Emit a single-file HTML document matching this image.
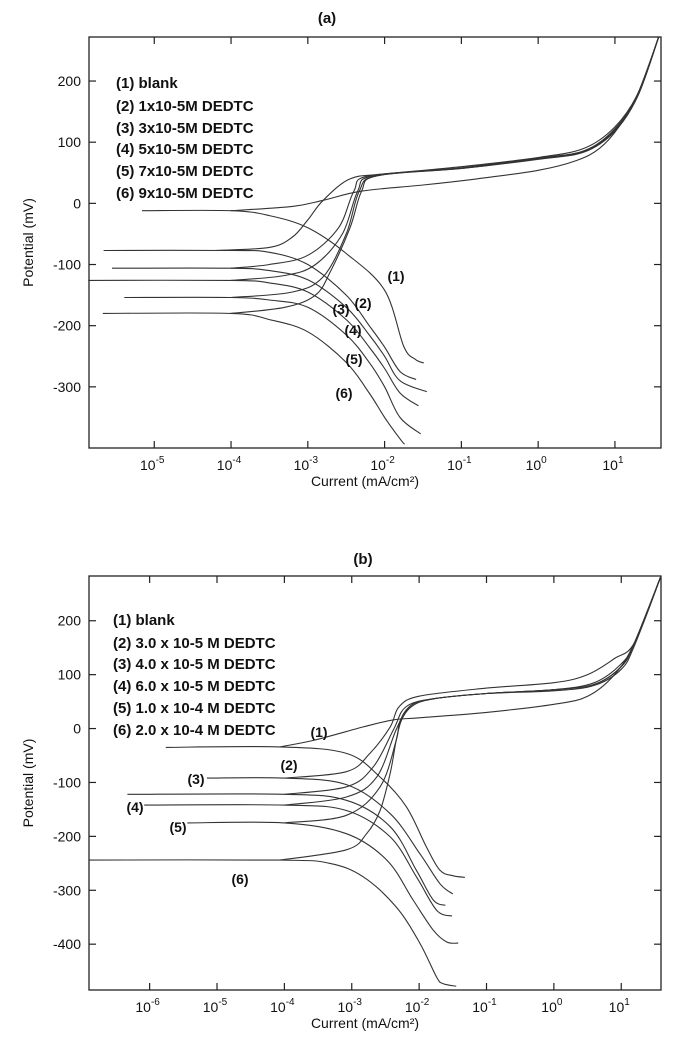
<!DOCTYPE html>
<html><head><meta charset="utf-8"><style>
html,body{margin:0;padding:0;background:#fff;}
svg{display:block;}
text{font-family:"Liberation Sans Narrow","Liberation Sans",sans-serif;fill:#111;}
</style></head><body>
<svg id="fig" width="673" height="1042" viewBox="0 0 673 1042"></svg>
<script>
// ---------- Panel (a) data: [log10(current), potential mV] ----------
const aTicksX = [-5,-4,-3,-2,-1,0,1];
const aTicksY = [200,100,0,-100,-200,-300];
const aLegend = ["(1) blank","(2) 1x10-5M DEDTC","(3) 3x10-5M DEDTC","(4) 5x10-5M DEDTC","(5) 7x10-5M DEDTC","(6) 9x10-5M DEDTC"];
const aCurveLabels = ["(1)","(2)","(3)","(4)","(5)","(6)"];
const aCath1 = [[-5.16,-12],[-4,-12],[-3.5,-20],[-3,-40],[-2.5,-82],[-2,-142],[-1.75,-234],[-1.6,-255],[-1.49,-261]];
const aAnod1 = [[-4,-12],[-3.2,-5],[-2.8,5],[-2.3,20],[-1.5,30],[-0.8,40],[0,54],[0.5,70],[0.8,90],[1.05,125],[1.3,180],[1.57,272]];
const aCath2 = [[-5.66,-77],[-4,-77],[-3.5,-80],[-3,-100],[-2.5,-150],[-2.2,-200],[-2,-235],[-1.8,-275],[-1.59,-288]];
const aAnod2 = [[-4.2,-77],[-3.5,-72],[-3.2,-55],[-3,-27],[-2.8,5],[-2.45,40],[-2,48],[-1,60],[0,75],[0.6,90],[1,125],[1.3,180],[1.57,272]];
const aCath3 = [[-5.55,-106],[-4,-106],[-3.5,-110],[-3,-125],[-2.5,-170],[-2.2,-215],[-2,-250],[-1.8,-290],[-1.45,-308]];
const aAnod3 = [[-4,-106],[-3.5,-100],[-3,-85],[-2.6,-40],[-2.4,20],[-2.2,45],[-1,57],[0,73],[0.6,85],[1,120],[1.3,178],[1.57,272]];
const aCath4 = [[-5.86,-126],[-4,-126],[-3.5,-130],[-3,-145],[-2.5,-190],[-2.2,-235],[-2,-270],[-1.8,-310],[-1.56,-331]];
const aAnod4 = [[-4,-126],[-3.3,-118],[-2.9,-100],[-2.55,-50],[-2.35,20],[-2.15,45],[-1,58],[0,74],[0.6,86],[1,122],[1.3,178],[1.57,272]];
const aCath5 = [[-5.39,-154],[-4,-154],[-3.5,-158],[-3,-170],[-2.5,-215],[-2.2,-260],[-2,-300],[-1.8,-350],[-1.53,-377]];
const aAnod5 = [[-4,-154],[-3.2,-145],[-2.8,-120],[-2.5,-50],[-2.33,20],[-2.1,45],[-1,58],[0,74],[0.6,86],[1,121],[1.3,178],[1.57,272]];
const aCath6 = [[-5.67,-180],[-4,-180],[-3.5,-190],[-3,-210],[-2.5,-260],[-2.2,-310],[-2,-350],[-1.8,-385],[-1.74,-394]];
const aAnod6 = [[-4,-180],[-3.3,-170],[-2.9,-150],[-2.7,-110],[-2.45,-40],[-2.3,20],[-2.1,45],[-1,57],[0,72],[0.6,84],[1,118],[1.3,176],[1.57,272]];

// ---------- Panel (b) data ----------
const bTicksX = [-6,-5,-4,-3,-2,-1,0,1];
const bTicksY = [200,100,0,-100,-200,-300,-400];
const bLegend = ["(1) blank","(2) 3.0 x 10-5 M DEDTC","(3) 4.0 x 10-5 M DEDTC","(4) 6.0 x 10-5 M DEDTC","(5) 1.0 x 10-4 M DEDTC","(6) 2.0 x 10-4 M DEDTC"];
const bCurveLabels = ["(1)","(2)","(3)","(4)","(5)","(6)"];
const bCath1 = [[-5.76,-35],[-4.07,-34],[-3.08,-46],[-2.58,-90],[-2.19,-145],[-1.89,-220],[-1.69,-263],[-1.5,-273],[-1.32,-276]];
const bAnod1 = [[-4.07,-34],[-3.57,-22],[-2.83,3],[-2.39,16],[-2,20],[-1,30],[0,45],[0.5,60],[0.9,100],[1.2,160],[1.59,283]];
const bCath2 = [[-5.15,-92],[-4,-92],[-3.08,-104],[-2.43,-158],[-1.99,-232],[-1.69,-288],[-1.5,-307]];
const bAnod2 = [[-4,-92],[-3.08,-80],[-2.73,-46],[-2.43,3],[-2.3,40],[-2,60],[-1,75],[0,85],[0.5,100],[0.9,130],[1.2,160],[1.59,283]];
const bCath3 = [[-6.33,-122],[-4,-122],[-3.08,-133],[-2.43,-182],[-2.04,-263],[-1.79,-318],[-1.61,-328]];
const bAnod3 = [[-4,-122],[-3.08,-108],[-2.68,-71],[-2.38,-2],[-2.2,40],[-1.8,55],[-1,65],[0,72],[0.6,85],[1,120],[1.2,160],[1.59,283]];
const bCath4 = [[-6.08,-142],[-4,-142],[-3.08,-152],[-2.43,-201],[-2.04,-275],[-1.74,-337],[-1.51,-348]];
const bAnod4 = [[-4,-142],[-3.08,-127],[-2.63,-90],[-2.34,-2],[-2.15,40],[-1.8,55],[-1,65],[0,72],[0.6,82],[1,115],[1.2,160],[1.59,283]];
const bCath5 = [[-5.44,-175],[-4,-175],[-3.08,-195],[-2.48,-244],[-2.09,-318],[-1.79,-374],[-1.59,-396],[-1.42,-398]];
const bAnod5 = [[-4,-175],[-3.08,-161],[-2.58,-108],[-2.34,-22],[-2.29,9],[-2.12,40],[-1.8,55],[-1,65],[0,72],[0.6,82],[1,115],[1.2,160],[1.59,283]];
const bCath6 = [[-6.9,-244],[-4.07,-244],[-3.33,-250],[-2.83,-275],[-2.34,-331],[-1.99,-398],[-1.74,-461],[-1.65,-473],[-1.45,-478]];
const bAnod6 = [[-4.07,-244],[-3.08,-225],[-2.78,-195],[-2.58,-152],[-2.43,-83],[-2.34,-22],[-2.26,16],[-2.1,45],[-1.8,55],[-1,65],[0,70],[0.6,80],[1,110],[1.2,155],[1.59,283]];

const NS="http://www.w3.org/2000/svg";
const svg=document.getElementById('fig');
function el(tag,attrs,parent){const e=document.createElementNS(NS,tag);for(const k in attrs)e.setAttribute(k,attrs[k]);(parent||svg).appendChild(e);return e;}

function smoothPath(pts,sx,sy){
  const p=pts.map(d=>[sx(d[0]),sy(d[1])]);
  let d="M"+p[0][0].toFixed(1)+","+p[0][1].toFixed(1);
  for(let i=0;i<p.length-1;i++){
    const p0=p[i-1]||p[i],p1=p[i],p2=p[i+1],p3=p[i+2]||p2;
    const c1=[p1[0]+(p2[0]-p0[0])/6,p1[1]+(p2[1]-p0[1])/6];
    const c2=[p2[0]-(p3[0]-p1[0])/6,p2[1]-(p3[1]-p1[1])/6];
    d+=" C"+c1[0].toFixed(1)+","+c1[1].toFixed(1)+" "+c2[0].toFixed(1)+","+c2[1].toFixed(1)+" "+p2[0].toFixed(1)+","+p2[1].toFixed(1);
  }
  return d;
}

function panel(cfg){
  const g=el('g',{});
  
  
  const sx=v=>cfg.L+(v-cfg.xmin)/(cfg.xmax-cfg.xmin)*(cfg.R-cfg.L);
  const sy=v=>cfg.B-(v-cfg.ymin)/(cfg.ymax-cfg.ymin)*(cfg.B-cfg.T);
  const t=el('text',{x:cfg.titleX,y:cfg.titleY,'font-size':15,'font-weight':'bold','text-anchor':'middle'},g);
  t.textContent=cfg.title;
  
  
  const box=el('rect',{x:cfg.L,y:cfg.T,width:cfg.R-cfg.L,height:cfg.B-cfg.T,fill:'none',stroke:'#222','stroke-width':1.3},g);
  
  
  cfg.ticksX.forEach(v=>{
    const x=sx(v);
    el('line',{x1:x,y1:cfg.B,x2:x,y2:cfg.B-7,stroke:'#222','stroke-width':1.2},g);
    el('line',{x1:x,y1:cfg.T,x2:x,y2:cfg.T+7,stroke:'#222','stroke-width':1.2},g);
    const tx=el('text',{x:x-2,y:cfg.B+22,'font-size':14,'text-anchor':'middle'},g);
    
    
    tx.appendChild(document.createTextNode('10'));
    const sup=el('tspan',{dy:-7,'font-size':10},tx); sup.textContent=String(v);
  });
  cfg.ticksY.forEach(v=>{
    const y=sy(v);
    el('line',{x1:cfg.L,y1:y,x2:cfg.L+7,y2:y,stroke:'#222','stroke-width':1.2},g);
    el('line',{x1:cfg.R,y1:y,x2:cfg.R-7,y2:y,stroke:'#222','stroke-width':1.2},g);
    const ty=el('text',{x:cfg.L-8,y:y+5,'font-size':14,'text-anchor':'end'},g);
    ty.textContent=String(v);
    
    
  });
  const xt=el('text',{x:(cfg.L+cfg.R)/2-10,y:cfg.xTitleY,'font-size':14,'text-anchor':'middle'},g);
  xt.textContent='Current (mA/cm²)';
  
  
  const yc=(cfg.T+cfg.B)/2;
  const yt=el('text',{x:33,y:yc,'font-size':14,'text-anchor':'middle',transform:'rotate(-90 33 '+yc+')'},g);
  yt.textContent='Potential (mV)';
  
  
  cfg.series.forEach((s,i)=>{
    [s[0],s[1]].forEach((pts,j)=>{
      const p=el('path',{d:smoothPath(pts,sx,sy),fill:'none',stroke:'#333','stroke-width':1.1},g);
      
      
    });
  });
  cfg.legend.forEach((s,i)=>{
    const lt=el('text',{x:cfg.legX,y:cfg.legY[i]+5,'font-size':15,'font-weight':'bold'},g);
    lt.textContent=s;
    
    
  });
  cfg.labels.forEach((s,i)=>{
    const ct=el('text',{x:cfg.labPos[i][0],y:cfg.labPos[i][1]+5,'font-size':14,'font-weight':'bold','text-anchor':'middle'},g);
    ct.textContent=s;
    
    
  });
}

panel({name:'panel-a',title:'(a)',titleX:327,titleY:23,L:89,R:661,T:37,B:448,
  xmin:-5.85,xmax:1.6,ymin:-400,ymax:272,ticksX:aTicksX,ticksY:aTicksY,xTitleY:486,
  series:[[aCath1,aAnod1],[aCath2,aAnod2],[aCath3,aAnod3],[aCath4,aAnod4],[aCath5,aAnod5],[aCath6,aAnod6]],
  legend:aLegend,legX:116,legY:[83,106,128,149,171,193],
  labels:aCurveLabels,labPos:[[396,276],[363,303],[341,309],[353,330],[354,359],[344,393]]});

panel({name:'panel-b',title:'(b)',titleX:363,titleY:564,L:89,R:661,T:576,B:990,
  xmin:-6.9,xmax:1.59,ymin:-485,ymax:283,ticksX:bTicksX,ticksY:bTicksY,xTitleY:1028,
  series:[[bCath1,bAnod1],[bCath2,bAnod2],[bCath3,bAnod3],[bCath4,bAnod4],[bCath5,bAnod5],[bCath6,bAnod6]],
  legend:bLegend,legX:113,legY:[620,643,664,686,708,730],
  labels:bCurveLabels,labPos:[[319,732],[289,765],[196,779],[135,807],[178,827],[240,879]]});
</script>
</body></html>
